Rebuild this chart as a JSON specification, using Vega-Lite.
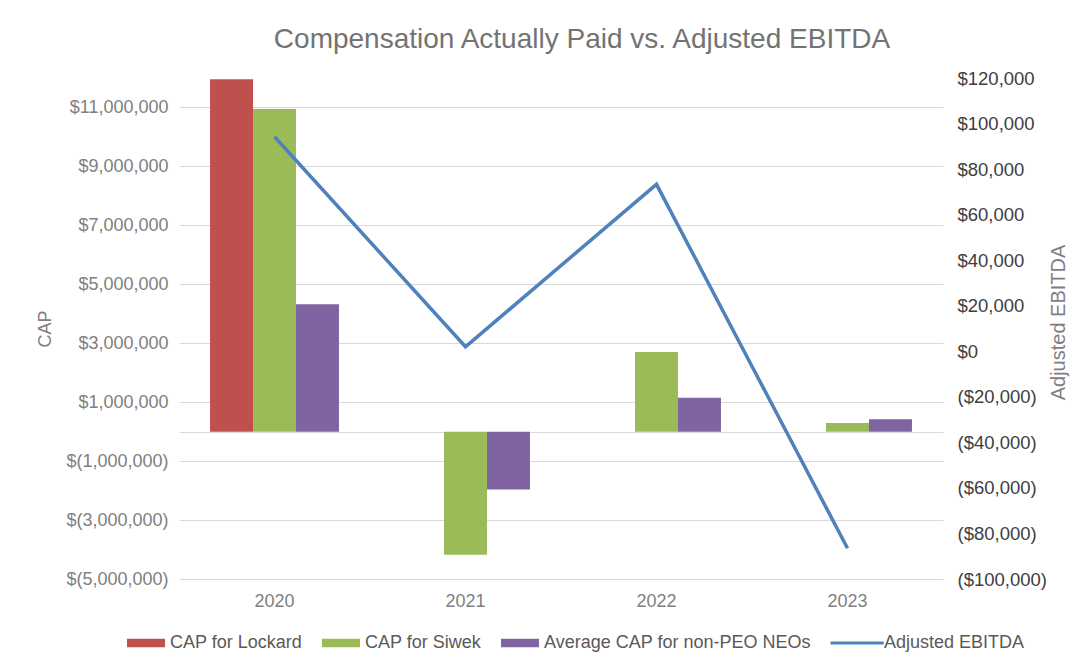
{
  "$schema": "https://vega.github.io/schema/vega-lite/v6.json",
  "width": 764,
  "height": 501,
  "autosize": "none",
  "padding": {"left": 179, "top": 78, "right": 139, "bottom": 88},
  "background": "white",
  "title": {
    "text": "Compensation Actually Paid vs. Adjusted EBITDA",
    "fontSize": 28,
    "font": "Liberation Sans",
    "fontWeight": "normal",
    "color": "#737373",
    "anchor": "middle",
    "dx": 21,
    "offset": 15
  },
  "config": {"view": {"stroke": null}, "font": "Liberation Sans"},
  "datasets": {
    "cap": [
      {"year": "2020", "series": "CAP for Lockard", "value": 11960000},
      {"year": "2020", "series": "CAP for Siwek", "value": 10950000},
      {"year": "2020", "series": "Average CAP for non-PEO NEOs", "value": 4320000},
      {"year": "2021", "series": "CAP for Siwek", "value": -4180000},
      {"year": "2021", "series": "Average CAP for non-PEO NEOs", "value": -1960000},
      {"year": "2022", "series": "CAP for Siwek", "value": 2700000},
      {"year": "2022", "series": "Average CAP for non-PEO NEOs", "value": 1150000},
      {"year": "2023", "series": "CAP for Siwek", "value": 290000},
      {"year": "2023", "series": "Average CAP for non-PEO NEOs", "value": 420000}
    ],
    "ebitda": [
      {"year": "2020", "ebitda": 94200},
      {"year": "2021", "ebitda": 2000},
      {"year": "2022", "ebitda": 73300},
      {"year": "2023", "ebitda": -86500}
    ]
  },
  "layer": [
    {
      "data": {"name": "cap"},
      "mark": {"type": "bar"},
      "encoding": {
        "x": {
          "field": "year",
          "type": "nominal",
          "sort": ["2020", "2021", "2022", "2023"],
          "scale": {"domain": ["2020", "2021", "2022", "2023"], "paddingInner": 0.325, "paddingOuter": 0.1625},
          "axis": {
            "title": null,
            "labelAngle": 0,
            "domain": false,
            "ticks": false,
            "tickSize": 0,
            "labelPadding": 13,
            "labelFontSize": 18,
            "labelColor": "#7f7f7f",
            "labelFont": "Liberation Sans"
          }
        },
        "xOffset": {
          "field": "series",
          "type": "nominal",
          "scale": {
            "domain": ["CAP for Lockard", "CAP for Siwek", "Average CAP for non-PEO NEOs"],
            "paddingInner": 0,
            "paddingOuter": 0
          }
        },
        "y": {
          "field": "value",
          "type": "quantitative",
          "scale": {"domain": [-5000000, 12000000], "nice": false},
          "axis": {
            "title": "CAP",
            "titleFontSize": 18,
            "titleFontWeight": "normal",
            "titleColor": "#7f7f7f",
            "titleX": -134,
            "titleY": 250.5,
            "titleAngle": 270,
            "titleAlign": "center",
            "titleBaseline": "middle",
            "values": [-5000000, -3000000, -1000000, 0, 1000000, 3000000, 5000000, 7000000, 9000000, 11000000],
            "labelExpr": "datum.value == 0 ? '' : (datum.value < 0 ? '$(' + format(-datum.value, ',') + ')' : '$' + format(datum.value, ','))",
            "labelFontSize": 18,
            "labelColor": "#808080",
            "labelPadding": 11,
            "domain": false,
            "ticks": false,
            "tickSize": 0,
            "grid": true,
            "gridColor": "#d9d9d9",
            "gridWidth": 1
          }
        },
        "color": {
          "field": "series",
          "type": "nominal",
          "scale": {
            "domain": ["CAP for Lockard", "CAP for Siwek", "Average CAP for non-PEO NEOs", "Adjusted EBITDA"],
            "range": ["#c0504d", "#9bbb59", "#8064a2", "#4f81bd"]
          },
          "legend": {
            "orient": "none",
            "legendX": -52,
            "legendY": 546,
            "direction": "horizontal",
            "title": null,
            "labelFontSize": 18,
            "labelLimit": 0,
            "labelColor": "#595959",
            "labelOffset": 5,
            "symbolSize": 1444,
            "symbolType": "M-1,-0.22H1V0.22H-1Z",
            "symbolStrokeWidth": 0,
            "columnPadding": 19,
            "encode": {
              "symbols": {
                "update": {
                  "shape": {"signal": "datum.label === 'Adjusted EBITDA' ? 'M-1.55,-0.075H1.25V0.075H-1.55Z' : 'M-1,-0.22H1V0.22H-1Z'"}
                }
              }
            }
          }
        }
      }
    },
    {
      "data": {"name": "ebitda"},
      "mark": {"type": "line", "strokeWidth": 3.5},
      "encoding": {
        "x": {"field": "year", "type": "nominal", "sort": ["2020", "2021", "2022", "2023"]},
        "y": {
          "field": "ebitda",
          "type": "quantitative",
          "scale": {"domain": [-100000, 120000], "nice": false},
          "axis": {
            "orient": "right",
            "title": "Adjusted EBITDA",
            "titleFontSize": 20,
            "titleFontWeight": "normal",
            "titleColor": "#7f7f7f",
            "titleX": 115,
            "titleY": 244,
            "titleAngle": 270,
            "titleAlign": "center",
            "titleBaseline": "middle",
            "values": [-100000, -80000, -60000, -40000, -20000, 0, 20000, 40000, 60000, 80000, 100000, 120000],
            "labelExpr": "datum.value < 0 ? '($' + format(-datum.value, ',') + ')' : '$' + format(datum.value, ',')",
            "labelFontSize": 18.5,
            "labelColor": "#404040",
            "labelPadding": 14,
            "domain": false,
            "ticks": false,
            "tickSize": 0,
            "grid": false
          }
        },
        "color": {"datum": "Adjusted EBITDA"}
      }
    }
  ],
  "resolve": {"scale": {"y": "independent"}}
}
